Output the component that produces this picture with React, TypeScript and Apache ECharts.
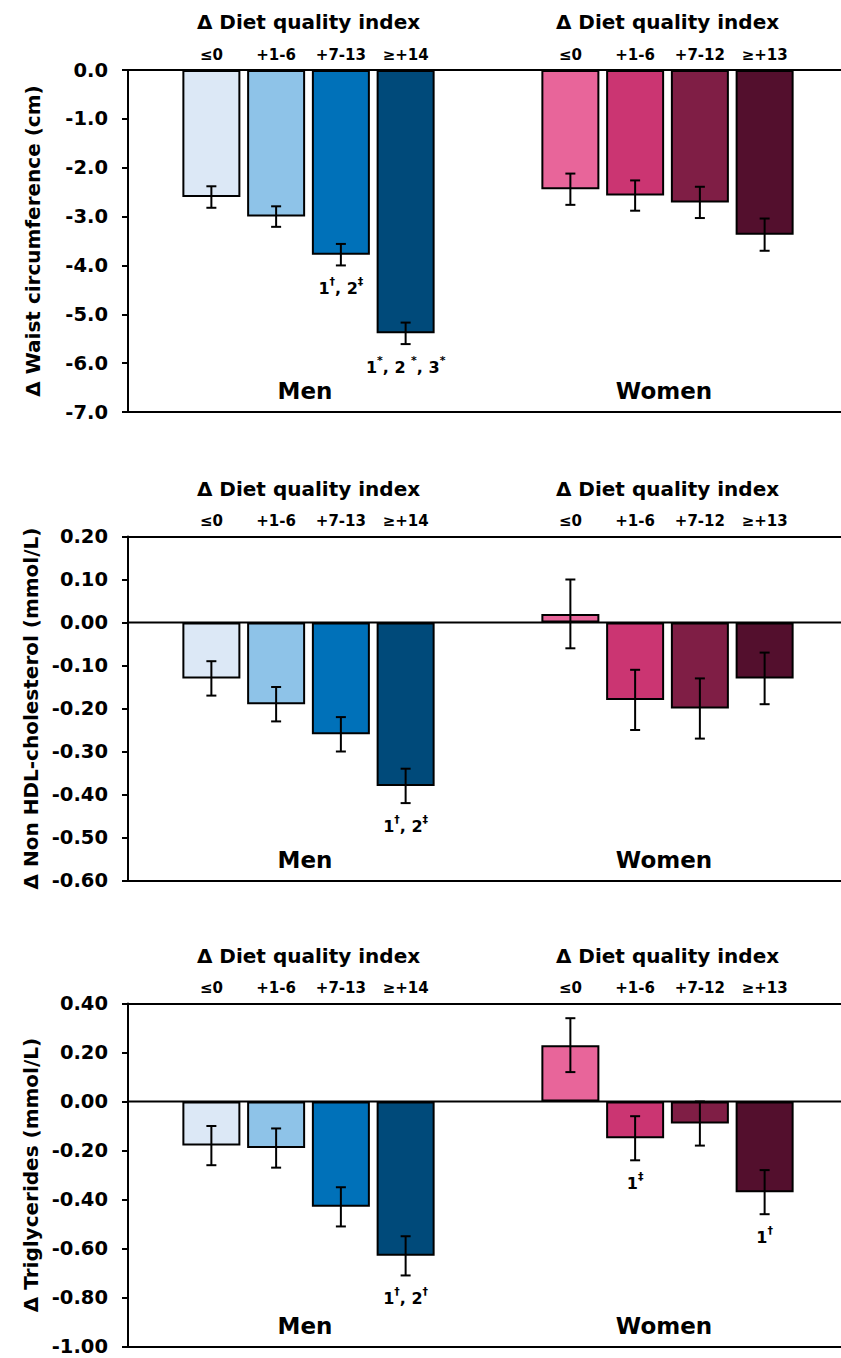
import React, { useEffect, useRef } from 'react';
import * as echarts from 'echarts';

// ---------- data ----------
const menCats = ['≤0', '+1-6', '+7-13', '≥+14'];
const womenCats = ['≤0', '+1-6', '+7-12', '≥+13'];
const menColors = ['#DCE8F6', '#8EC3E8', '#0071B9', '#004A7A'];
const womenColors = ['#E8659A', '#CB3572', '#7F1E45', '#530F2D'];

const waistMen = [-2.6, -3.0, -3.78, -5.39];
const waistMenErr = [0.22, 0.21, 0.22, 0.22];
const waistWomen = [-2.44, -2.57, -2.71, -3.37];
const waistWomenErr = [0.32, 0.31, 0.32, 0.33];
const waistMenNotes = ['', '', '1†, 2‡', '1*, 2 *, 3*'];
const waistWomenNotes = ['', '', '', ''];

const hdlMen = [-0.13, -0.19, -0.26, -0.38];
const hdlMenErr = [0.04, 0.04, 0.04, 0.04];
const hdlWomen = [0.02, -0.18, -0.2, -0.13];
const hdlWomenErr = [0.08, 0.07, 0.07, 0.06];
const hdlMenNotes = ['', '', '', '1†, 2‡'];
const hdlWomenNotes = ['', '', '', ''];

const tgMen = [-0.18, -0.19, -0.43, -0.63];
const tgMenErr = [0.08, 0.08, 0.08, 0.08];
const tgWomen = [0.23, -0.15, -0.09, -0.37];
const tgWomenErr = [0.11, 0.09, 0.09, 0.09];
const tgMenNotes = ['', '', '', '1†, 2†'];
const tgWomenNotes = ['', '1‡', '', '1†'];

const groupTitle = 'Δ Diet quality index';
const menLabel = 'Men';
const womenLabel = 'Women';

const panels = [
  {
    yName: 'Δ Waist circumference (cm)', min: -7, max: 0, interval: 1, dec: 1,
    men: waistMen, menErr: waistMenErr, women: waistWomen, womenErr: waistWomenErr,
    menNotes: waistMenNotes, womenNotes: waistWomenNotes,
  },
  {
    yName: 'Δ Non HDL-cholesterol (mmol/L)', min: -0.6, max: 0.2, interval: 0.1, dec: 2,
    men: hdlMen, menErr: hdlMenErr, women: hdlWomen, womenErr: hdlWomenErr,
    menNotes: hdlMenNotes, womenNotes: hdlWomenNotes,
  },
  {
    yName: 'Δ Triglycerides (mmol/L)', min: -1.0, max: 0.4, interval: 0.2, dec: 2,
    men: tgMen, menErr: tgMenErr, women: tgWomen, womenErr: tgWomenErr,
    menNotes: tgMenNotes, womenNotes: tgWomenNotes,
  },
];

// ---------- layout ----------
const W = 841;
const H = 1358;
const FONT = '"DejaVu Sans", "Liberation Sans", sans-serif';
const panelTops = [70, 536.5, 1003.5];
const panelBottoms = [412, 880.5, 1346.5];
const axisLeft = 128;
const menLeft = 179;
const womenLeft = 538;
const groupWidth = 259;

function noteRich(s: string) {
  let out = '';
  for (const ch of s) {
    if (ch === '†' || ch === '‡' || ch === '*') out += '{s|' + ch + '}';
    else out += '{n|' + ch + '}';
  }
  return out;
}

function errSeries(xIdx: number, yIdx: number, vals: number[], errs: number[], notes: string[]) {
  return {
    type: 'custom',
    xAxisIndex: xIdx,
    yAxisIndex: yIdx,
    z: 5,
    data: vals.map((v, i) => [i, v, errs[i]]),
    renderItem: (params: any, api: any) => {
      const x = api.value(0);
      const m = api.value(1);
      const e = api.value(2);
      const hi = api.coord([x, m + e]);
      const lo = api.coord([x, m - e]);
      const cap = 5;
      const ls = { stroke: '#000', lineWidth: 2 };
      const children: any[] = [
        { type: 'line', shape: { x1: hi[0], y1: hi[1], x2: lo[0], y2: lo[1] }, style: ls },
        { type: 'line', shape: { x1: hi[0] - cap, y1: hi[1], x2: hi[0] + cap, y2: hi[1] }, style: ls },
        { type: 'line', shape: { x1: lo[0] - cap, y1: lo[1], x2: lo[0] + cap, y2: lo[1] }, style: ls },
      ];
      const note = notes[params.dataIndex];
      if (note) {
        children.push({
          type: 'text',
          x: lo[0],
          y: lo[1] + 21,
          style: {
            text: noteRich(note),
            align: 'center',
            verticalAlign: 'middle',
            rich: {
              n: { fontSize: 16, fontWeight: 'bold', fontFamily: FONT, fill: '#000', lineHeight: 20, verticalAlign: 'bottom' },
              s: { fontSize: 11, fontWeight: 'bold', fontFamily: FONT, fill: '#000', lineHeight: 20, verticalAlign: 'top' },
            },
          },
        });
      }
      return { type: 'group', children };
    },
  };
}

function frameAxis(gridIndex: number, position: string) {
  return {
    gridIndex, type: 'value', min: 0, max: 1, position,
    axisLine: { show: true, onZero: false, lineStyle: { color: '#000', width: 2 } },
    axisTick: { show: false }, axisLabel: { show: false }, splitLine: { show: false },
  };
}

function groupAxis(gridIndex: number, cats: string[]) {
  return {
    gridIndex, type: 'category', data: cats, position: 'top',
    name: groupTitle, nameLocation: 'middle', nameGap: 38,
    nameTextStyle: { fontFamily: FONT, fontWeight: 'bold', fontSize: 20, color: '#000' },
    axisLine: { show: false }, axisTick: { show: false },
    axisLabel: { margin: 8, fontFamily: FONT, fontWeight: 'bold', fontSize: 15, color: '#000', interval: 0 },
    splitLine: { show: false },
  };
}

function buildOption() {
  const grid: any[] = [];
  const xAxis: any[] = [];
  const yAxis: any[] = [];
  const series: any[] = [];
  const graphic: any[] = [];

  panels.forEach((p, pi) => {
    const top = panelTops[pi];
    const height = panelBottoms[pi] - top;
    const g = pi * 3;
    const xb = pi * 4;
    grid.push({ left: axisLeft, right: 0, top, height });
    grid.push({ left: menLeft, width: groupWidth, top, height });
    grid.push({ left: womenLeft, width: groupWidth, top, height });

    xAxis.push(frameAxis(g, 'bottom'));      // xb
    xAxis.push(groupAxis(g + 1, menCats));   // xb+1
    xAxis.push(groupAxis(g + 2, womenCats)); // xb+2
    xAxis.push(frameAxis(g, 'top'));         // xb+3

    yAxis.push({
      gridIndex: g, type: 'value', min: p.min, max: p.max, interval: p.interval,
      name: p.yName, nameLocation: 'middle', nameGap: 85, nameRotate: 90,
      nameTextStyle: { fontFamily: FONT, fontWeight: 'bold', fontSize: 20, color: '#000' },
      axisLine: { show: true, onZero: false, lineStyle: { color: '#000', width: 2 } },
      axisTick: { show: true, length: 6, lineStyle: { color: '#000', width: 2 } },
      axisLabel: {
        margin: 20, fontFamily: FONT, fontWeight: 'bold', fontSize: 19.5, color: '#000',
        formatter: (v: number) => v.toFixed(p.dec),
      },
      splitLine: { show: false },
    });
    yAxis.push({ gridIndex: g + 1, type: 'value', min: p.min, max: p.max, interval: p.interval, show: false });
    yAxis.push({ gridIndex: g + 2, type: 'value', min: p.min, max: p.max, interval: p.interval, show: false });

    // zero line
    series.push({
      type: 'line', xAxisIndex: xb, yAxisIndex: g, data: [[0, 0], [1, 0]],
      symbol: 'none', lineStyle: { color: '#000', width: 2 }, z: 6, silent: true,
    });
    series.push({
      type: 'bar', xAxisIndex: xb + 1, yAxisIndex: g + 1, barWidth: 58,
      data: p.men.map((v, i) => ({ value: v, itemStyle: { color: menColors[i] } })),
      itemStyle: { borderColor: '#000', borderWidth: 2 },
    });
    series.push({
      type: 'bar', xAxisIndex: xb + 2, yAxisIndex: g + 2, barWidth: 58,
      data: p.women.map((v, i) => ({ value: v, itemStyle: { color: womenColors[i] } })),
      itemStyle: { borderColor: '#000', borderWidth: 2 },
    });
    series.push(errSeries(xb + 1, g + 1, p.men, p.menErr, p.menNotes));
    series.push(errSeries(xb + 2, g + 2, p.women, p.womenErr, p.womenNotes));

    const ly = panelBottoms[pi] - 21;
    graphic.push({
      type: 'text', x: 305, y: ly,
      style: { text: menLabel, align: 'center', verticalAlign: 'middle', font: `bold 23px ${FONT}`, fill: '#000' },
    });
    graphic.push({
      type: 'text', x: 664, y: ly,
      style: { text: womenLabel, align: 'center', verticalAlign: 'middle', font: `bold 23px ${FONT}`, fill: '#000' },
    });
  });

  return {
    animation: false,
    backgroundColor: '#fff',
    textStyle: { fontFamily: FONT },
    grid, xAxis, yAxis, series, graphic,
  };
}

export default function App() {
  const ref = useRef<HTMLDivElement>(null);
  useEffect(() => {
    if (!ref.current) return;
    const chart = echarts.init(ref.current, undefined, { renderer: 'svg', width: W, height: H });
    chart.setOption(buildOption() as any);
    return () => chart.dispose();
  }, []);
  return <div ref={ref} style={{ position: 'absolute', left: 0, top: 0, width: W, height: H }} />;
}
